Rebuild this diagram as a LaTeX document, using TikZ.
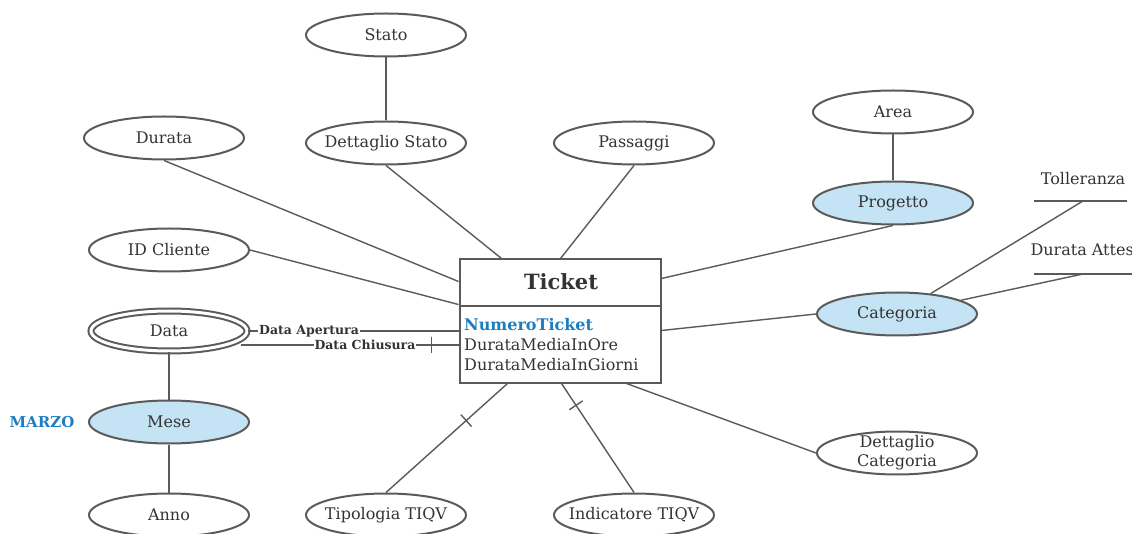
\documentclass[tikz,border=0pt]{standalone}
\usepackage{fontspec}
\setmainfont{DejaVu Serif}
\usetikzlibrary{shapes.geometric,calc}
\definecolor{lc}{HTML}{5A5A5A}
\definecolor{tc}{HTML}{333333}
\definecolor{kb}{HTML}{C4E3F5}
\definecolor{kt}{HTML}{1E7DC0}
\tikzset{
  attr/.style={ellipse, draw=lc, line width=2pt, fill=white, minimum width=160pt,
    minimum height=43pt, inner sep=0pt, text=tc, font=\fontsize{16}{20}\selectfont, align=center},
  keyattr/.style={attr, fill=kb},
  link/.style={draw=lc, line width=1.4pt},
  elabel/.style={fill=white, inner sep=1pt, text=tc, font=\fontsize{12.5}{14}\selectfont\bfseries},
  tick/.style={sloped, draw=lc, line width=1.4pt, minimum width=0pt, minimum height=16pt, inner sep=0pt},
  plain/.style={text=tc, font=\fontsize{16}{20}\selectfont}
}
% text that does not widen its ellipse
\newcommand{\fixw}[1]{\makebox[0pt]{#1}}
\begin{document}
\begin{tikzpicture}[x=1pt,y=-1pt]
\useasboundingbox (0,0) rectangle (1132,534);

% central entity
\node[draw=lc, line width=2pt, minimum width=201pt, minimum height=123pt, inner sep=0pt] (tk) at (560,321) {};
\draw[lc, line width=2pt] (tk.west |- 0,306) -- (tk.east |- 0,306);
\node[text=tc, font=\fontsize{21}{24}\selectfont\bfseries] (title) at (561,282) {Ticket};
\node[anchor=north west, align=left, inner sep=0pt, text=tc, font=\fontsize{16}{20}\selectfont] (fields) at (464,318)
  {\textcolor{kt}{\bfseries NumeroTicket}\\DurataMediaInOre\\DurataMediaInGiorni};

% attributes
\node[attr] (stato) at (386,35) {Stato};
\node[attr] (dstato) at (386,143) {\fixw{Dettaglio Stato}};
\node[attr] (durata) at (164,138) {Durata};
\node[attr] (pass) at (634,143) {Passaggi};
\node[attr] (area) at (893,112) {Area};
\node[keyattr] (prog) at (893,203) {Progetto};
\node[keyattr] (cat) at (897,314) {Categoria};
\node[attr] (idc) at (169,250) {\fixw{ID Cliente}};
\node[attr, double=white, double distance=3pt, minimum width=156pt, minimum height=40pt] (data) at (169,331) {Data};
\node[keyattr] (mese) at (169,422) {Mese};
\node[attr] (anno) at (169,515) {Anno};
\node[attr] (tipo) at (386,515) {\fixw{Tipologia TIQV}};
\node[attr] (ind) at (634,515) {\fixw{Indicatore TIQV}};
\node[attr, label={[plain, align=center, inner sep=0pt]center:Dettaglio\\[-1pt]Categoria}] (dcat) at (897,453) {};
\node[text=kt, font=\fontsize{15}{16}\selectfont\bfseries] (marzo) at (42,422) {MARZO};

% category properties
\node[plain] (toll) at (1083,179) {Tolleranza};
\node[plain, anchor=west] (datt) at (1027,250) {Durata Attesa};
\coordinate (tollA) at (1034,201);
\coordinate (tollB) at (1127,201);
\coordinate (tollC) at (1083,201);
\coordinate (dattA) at (1034,274);
\coordinate (dattB) at (1140,274);
\coordinate (dattC) at (1083,274);
\draw[link] (tollA) -- (tollB);
\draw[link] (dattA) -- (dattB);
\draw[link] (tollC) -- (cat);
\draw[link] (dattC) -- (cat);

% connectors
\draw[link] (stato) -- (dstato);
\draw[link] (area) -- (prog);
\draw[link] (data) -- (mese);
\draw[link] (mese) -- (anno);
\draw[link] (dstato.south) -- ($(tk.north west)+(43,0)$);
\draw[link] (durata.south) -- ($(tk.north west)+(0,23)$);
\draw[link] (pass.south) -- ($(tk.north west)+(102,0)$);
\draw[link] (idc.east) -- ($(tk.north west)+(0,46)$);
\draw[link] (prog.south) -- ($(tk.north east)+(0,20)$);
\draw[link] (cat.west) -- ($(tk.north east)+(0,72)$);
\draw[link] (dcat.west) -- ($(tk.south west)+(168,0)$);
\coordinate (dchA) at ($(data.center)+(72,14)$);
\draw[link] (data.east) -- node[elabel, pos=0.29] {Data Apertura} (data.east -| tk.west);
\draw[link] (dchA) -- node[elabel, pos=0.57] {Data Chiusura} node[tick, pos=0.875] {} (dchA -| tk.west);
\draw[link] (tipo.north) -- node[tick, pos=0.66] {} ($(tk.south west)+(49,0)$);
\draw[link] (ind.north) -- node[tick, pos=0.8] {} ($(tk.south west)+(103,0)$);
\end{tikzpicture}
\end{document}
